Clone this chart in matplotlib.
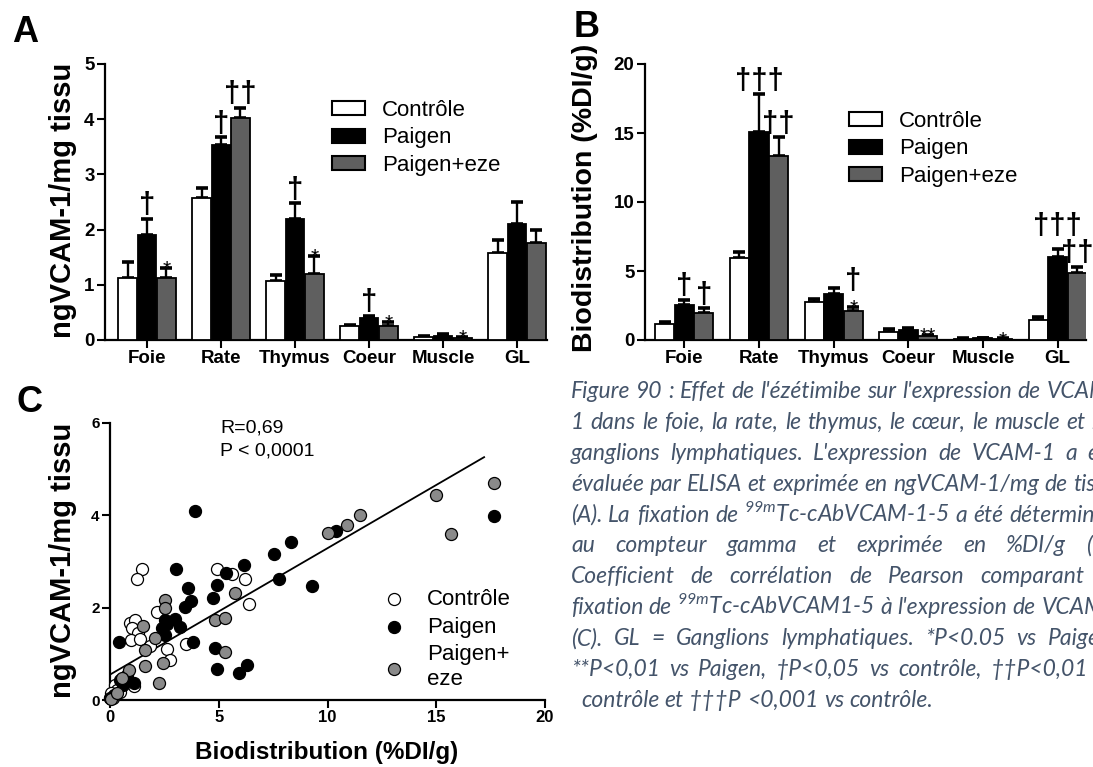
import numpy as np
import matplotlib

matplotlib.use("Agg")
import matplotlib.pyplot as plt
from matplotlib.patches import Patch

plt.rcParams["font.family"] = ["Liberation Sans", "DejaVu Sans"]
plt.rcParams["mathtext.fontset"] = "custom"
plt.rcParams["mathtext.rm"] = "Lato:italic"
plt.rcParams["mathtext.it"] = "Lato:italic"

W, H = 1093, 767

# --- data ---------------------------------------------------------------
TISSUES = ["Foie", "Rate", "Thymus", "Coeur", "Muscle", "GL"]
GROUPS = ["Contrôle", "Paigen", "Paigen+eze"]

# panel A: ngVCAM-1/mg tissu (mean, upper SEM)
VCAM_CTRL = [1.13, 2.57, 1.06, 0.25, 0.05, 1.57]
VCAM_PAIGEN = [1.91, 3.53, 2.19, 0.39, 0.08, 2.11]
VCAM_EZE = [1.13, 4.03, 1.20, 0.26, 0.04, 1.75]
VCAM_CTRL_SEM = [0.29, 0.18, 0.11, 0.03, 0.02, 0.25]
VCAM_PAIGEN_SEM = [0.29, 0.14, 0.29, 0.05, 0.03, 0.39]
VCAM_EZE_SEM = [0.17, 0.18, 0.32, 0.06, 0.02, 0.24]

# panel B: biodistribution (%DI/g)
BIO_CTRL = [1.16, 5.97, 2.73, 0.56, 0.10, 1.45]
BIO_PAIGEN = [2.54, 15.1, 3.33, 0.72, 0.11, 6.04]
BIO_EZE = [1.98, 13.36, 2.13, 0.29, 0.07, 4.83]
BIO_CTRL_SEM = [0.17, 0.43, 0.27, 0.21, 0.05, 0.24]
BIO_PAIGEN_SEM = [0.36, 2.70, 0.47, 0.18, 0.05, 0.56]
BIO_EZE_SEM = [0.31, 1.34, 0.24, 0.10, 0.04, 0.48]

# significance marks: (tissue, group index, text, extra lift in points)
VCAM_MARKS = [
    ("Foie", 1, "†", 0), ("Foie", 2, "*", 0),
    ("Rate", 1, "†", 0), ("Rate", 2, "††", 0),
    ("Thymus", 1, "†", 0), ("Thymus", 2, "*", 0),
    ("Coeur", 1, "†", 0), ("Coeur", 2, "*", 0),
    ("Muscle", 2, "*", 0),
]
BIO_MARKS = [
    ("Foie", 1, "†", 0), ("Foie", 2, "†", 0),
    ("Rate", 1, "†††", 0), ("Rate", 2, "††", 0),
    ("Thymus", 2, "*", 0), ("Thymus", 2, "†", 9),
    ("Coeur", 2, "**", 0),
    ("Muscle", 2, "*", 0),
    ("GL", 1, "†††", 7), ("GL", 2, "††", 0),
]

# panel C: biodistribution (x) vs ngVCAM-1/mg tissu (y)
CTRL_X = [1.46, 1.23, 2.15, 0.92, 1.15, 1.00, 1.30, 0.95, 1.38, 1.84, 2.64,
          3.49, 2.76, 4.90, 5.60, 6.20, 6.40, 1.10, 0.22, 0.44, 0.10, 0.00,
          0.50, 0.30, 0.15, 0.05]
CTRL_Y = [2.84, 2.62, 1.90, 1.67, 1.74, 1.56, 1.45, 1.30, 1.32, 1.16, 1.10,
          1.22, 0.86, 2.84, 2.74, 2.62, 2.08, 0.30, 0.33, 0.18, 0.10, 0.04,
          0.40, 0.22, 0.05, 0.15]
PAIGEN_X = [3.91, 17.65, 10.40, 8.30, 7.54, 3.03, 6.16, 5.32, 7.79, 9.30,
            3.60, 4.93, 4.72, 3.72, 3.45, 2.53, 2.99, 3.22, 2.38, 2.53, 3.83,
            0.41, 4.83, 4.90, 5.95, 6.31, 0.80, 1.10, 0.45, 0.60, 0.00, 0.20,
            2.60]
PAIGEN_Y = [4.09, 3.99, 3.65, 3.42, 3.17, 2.83, 2.92, 2.75, 2.63, 2.46,
            2.43, 2.50, 2.21, 2.14, 2.01, 1.74, 1.76, 1.59, 1.56, 1.41, 1.25,
            1.25, 1.12, 0.67, 0.58, 0.75, 0.54, 0.36, 0.43, 0.32, 0.04, 0.10,
            1.65]
EZE_X = [17.65, 15.00, 15.70, 11.50, 10.90, 10.00, 5.75, 4.83, 5.29, 5.29,
         2.53, 2.53, 1.53, 2.07, 1.61, 2.45, 1.61, 2.24, 0.88, 0.55, 0.05,
         0.30]
EZE_Y = [4.70, 4.45, 3.60, 4.00, 3.78, 3.62, 2.32, 1.74, 1.78, 1.03,
         2.17, 1.99, 1.61, 1.34, 1.09, 0.81, 0.74, 0.36, 0.65, 0.47, 0.03,
         0.15]
FIT_X = [0.0, 17.2]
FIT_Y = [0.55, 5.26]

CAPTION_LINES = [
    "Figure 90 : Effet de l'ézétimibe sur l'expression de VCAM-",
    "1 dans le foie, la rate, le thymus, le cœur, le muscle et les",
    "ganglions lymphatiques. L'expression de VCAM-1 a été",
    "évaluée par ELISA et exprimée en ngVCAM-1/mg de tissu",
    "(A). La fixation de $^{99m}$Tc-cAbVCAM-1-5 a été déterminée",
    "au compteur gamma et exprimée en %DI/g (B).",
    "Coefficient de corrélation de Pearson comparant la",
    "fixation de $^{99m}$Tc-cAbVCAM1-5 à l'expression de VCAM-1",
    "(C). GL = Ganglions lymphatiques. *P<0.05 vs Paigen,",
    "**P<0,01 vs Paigen, †P<0,05 vs contrôle, ††P<0,01 vs",
    "contrôle et †††P <0,001 vs contrôle.",
]

# --- styling ---------------------------------------------------------------
GROUP_COLORS = ["white", "black", "#5f5f5f"]
SCATTER_COLORS = ["white", "black", "#8a8a8a"]
CAPTION_COLOR = "#44546a"
BAR_W = 0.255
BAR_STEP = 0.262


def fx(x):
    return x / W


def fy(y):
    return 1 - y / H


def style_axes(ax, tick_size):
    for side in ("top", "right"):
        ax.spines[side].set_visible(False)
    for side in ("left", "bottom"):
        ax.spines[side].set_linewidth(1.6)
    ax.tick_params(width=1.5, length=5.5, labelsize=tick_size, pad=2)
    for lbl in ax.get_xticklabels() + ax.get_yticklabels():
        lbl.set_fontweight("bold")


def bar_panel(fig, rect, means, sems, marks, yticks, xlim):
    ax = fig.add_axes(rect)
    x = np.arange(len(TISSUES))
    for k in range(len(GROUPS)):
        pos = x + (k - 1) * BAR_STEP
        ax.bar(pos, means[k], width=BAR_W, color=GROUP_COLORS[k],
               edgecolor="black", linewidth=1.3, label=GROUPS[k], zorder=3)
        ax.errorbar(pos, means[k], yerr=[np.zeros(len(pos)), sems[k]],
                    fmt="none", ecolor="black", elinewidth=1.7, capsize=4,
                    capthick=2.6, zorder=2)
    for tissue, k, text, lift in marks:
        i = TISSUES.index(tissue)
        top = means[k][i] + sems[k][i]
        star = "*" in text
        ax.annotate(text, (i + (k - 1) * BAR_STEP, top),
                    xytext=(0, (-5 if star else 4) + lift),
                    textcoords="offset points", ha="center", va="baseline",
                    fontsize=15 if star else 21,
                    fontweight="normal" if star else "bold",
                    annotation_clip=False)
    ax.set_xlim(*xlim)
    ax.set_ylim(yticks[0], yticks[-1])
    ax.set_yticks(yticks)
    ax.set_xticks(x)
    ax.set_xticklabels(TISSUES)
    style_axes(ax, 13.5)
    return ax


def bar_legend(ax, x_left, y_mid):
    handles = [Patch(facecolor=c, edgecolor="black", linewidth=1.5)
               for c in GROUP_COLORS]
    ax.legend(handles, GROUPS, loc="center left",
              bbox_to_anchor=(fx(x_left), fy(y_mid)),
              bbox_transform=ax.figure.transFigure, frameon=False,
              fontsize=16, handlelength=1.5, handleheight=0.6,
              handletextpad=0.75, labelspacing=0.3, borderpad=0,
              borderaxespad=0)


fig = plt.figure(figsize=(W / 100, H / 100), dpi=100)

# panel A
ax_a = bar_panel(
    fig, [fx(105), fy(340), fx(547) - fx(105), fy(64) - fy(340)],
    [VCAM_CTRL, VCAM_PAIGEN, VCAM_EZE],
    [VCAM_CTRL_SEM, VCAM_PAIGEN_SEM, VCAM_EZE_SEM],
    VCAM_MARKS, [0, 1, 2, 3, 4, 5], (-0.568, 5.405))
bar_legend(ax_a, 332, 138)

# panel B
ax_b = bar_panel(
    fig, [fx(645), fy(340), fx(1086) - fx(645), fy(64) - fy(340)],
    [BIO_CTRL, BIO_PAIGEN, BIO_EZE],
    [BIO_CTRL_SEM, BIO_PAIGEN_SEM, BIO_EZE_SEM],
    BIO_MARKS, [0, 5, 10, 15, 20], (-0.527, 5.38))
bar_legend(ax_b, 849, 149)

# panel C
ax_c = fig.add_axes([fx(110), fy(700), fx(545) - fx(110), fy(423) - fy(700)])
ax_c.plot(FIT_X, FIT_Y, color="black", linewidth=1.3, zorder=2)
for xs, ys, col, name in [(CTRL_X, CTRL_Y, SCATTER_COLORS[0], "Contrôle"),
                          (PAIGEN_X, PAIGEN_Y, SCATTER_COLORS[1], "Paigen"),
                          (EZE_X, EZE_Y, SCATTER_COLORS[2], "Paigen+\neze")]:
    ax_c.scatter(xs, ys, s=75, facecolor=col, edgecolor="black",
                 linewidth=0.9, zorder=3, clip_on=False, label=name)
ax_c.set_xlim(0, 20)
ax_c.set_ylim(0, 6)
ax_c.set_xticks([0, 5, 10, 15, 20])
ax_c.set_yticks([0, 2, 4, 6])
style_axes(ax_c, 12)
for lbl in ax_c.get_yticklabels():
    lbl.set_fontsize(11)
ax_c.legend(loc="upper left", bbox_to_anchor=(fx(387), fy(589)),
            bbox_transform=fig.transFigure, frameon=False, fontsize=16,
            handlelength=0.6, handletextpad=1.2, labelspacing=0.3,
            borderpad=0, borderaxespad=0, scatterpoints=1)
fig.text(fx(220), fy(428), "R=0,69", fontsize=14, va="center")
fig.text(fx(220), fy(451), "P < 0,0001", fontsize=14, va="center")

# axis titles and panel letters
for x, y, txt, size in [(63, 200, "ngVCAM-1/mg tissu", 21),
                        (585, 198, "Biodistribution (%DI/g)", 20.5),
                        (63, 560, "ngVCAM-1/mg tissu", 21)]:
    fig.text(fx(x), fy(y), txt, rotation=90, ha="center", va="center",
             fontsize=size, fontweight="bold")
fig.text(fx(327), fy(753), "Biodistribution (%DI/g)", ha="center",
         va="center", fontsize=17.5, fontweight="bold")
for x, y, letter in [(12, 42, "A"), (574, 37, "B"), (17, 412, "C")]:
    fig.text(fx(x), fy(y), letter, fontsize=26, fontweight="bold",
             va="baseline")

# justified italic caption, running off the right edge as in the source
renderer = fig.canvas.get_renderer()
left_edge, right_edge = 571, 1117
cap_kw = dict(family="Lato", style="italic", color=CAPTION_COLOR,
              va="baseline")
# size the caption so its first line fills the column at natural spacing
probe = fig.text(0, 0, CAPTION_LINES[0], fontsize=14, **cap_kw)
cap_size = 14 * (right_edge - left_edge) / probe.get_window_extent(renderer).width
probe.remove()
cap_kw["fontsize"] = cap_size
probe = fig.text(0, 0, "a a", **cap_kw)
probe2 = fig.text(0, 0, "aa", **cap_kw)
space_w = (probe.get_window_extent(renderer).width
           - probe2.get_window_extent(renderer).width)
probe.remove()
probe2.remove()
for i, line in enumerate(CAPTION_LINES):
    last = i == len(CAPTION_LINES) - 1
    x0 = 581 if last else left_edge
    base = 398 + i * 30.9
    words = line.split(" ")
    objs = [fig.text(0, 0, w, **cap_kw) for w in words]
    widths = [o.get_window_extent(renderer).width for o in objs]
    gap = space_w
    if not last and len(words) > 1:
        gap = max(space_w, (right_edge - x0 - sum(widths)) / (len(words) - 1))
    x = x0
    for o, w in zip(objs, widths):
        o.set_position((fx(x), fy(base)))
        x += w + gap

fig.savefig("out.png", dpi=100)
